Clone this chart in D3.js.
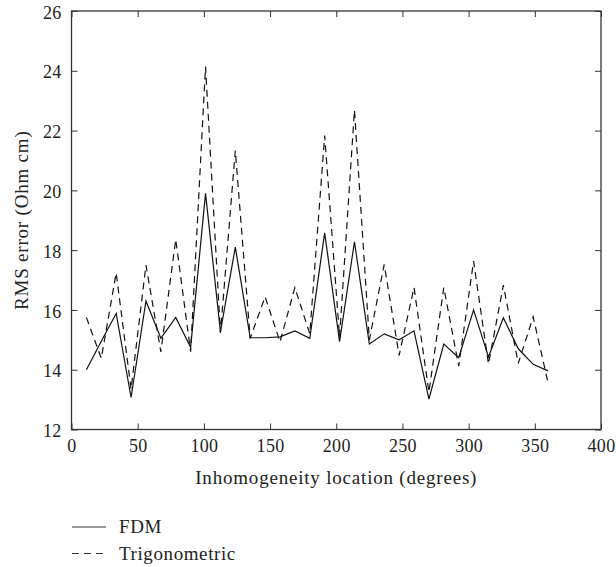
<!DOCTYPE html>
<html>
<head>
  <meta charset="utf-8">
  <script src="https://d3js.org/d3.v7.min.js"></script>
  <style type="text/css">
  body {
    margin: 0;
    background: #fff;
  }
  svg {
    display: block;
    font-family: "Liberation Serif", "Times New Roman", serif;
  }
  .axis path, .axis line {
    stroke: #333;
  }
  .axis text {
    font-size: 18px;
    letter-spacing: 0.3px;
    fill: #222;
  }
  .title {
    font-size: 19px;
    letter-spacing: 0.8px;
    fill: #222;
  }
  </style>
</head>
<body>
  <script type="text/javascript">
    // inhomogeneity location (degrees)
    var angles = [11.25, 22.5, 33.75, 45, 56.25, 67.5, 78.75, 90, 101.25, 112.5, 123.75,
      135, 146.25, 157.5, 168.75, 180, 191.25, 202.5, 213.75, 225, 236.25, 247.5,
      258.75, 270, 281.25, 292.5, 303.75, 315, 326.25, 337.5, 348.75, 360];

    // RMS error (Ohm cm)
    var fdm = [14.0, 14.95, 15.88, 13.07, 16.3, 15.05, 15.75, 14.75, 19.9, 15.27, 18.1,
      15.07, 15.07, 15.1, 15.3, 15.05, 18.58, 14.94, 18.28, 14.86, 15.2, 15.0,
      15.3, 13.02, 14.86, 14.4, 16.0, 14.43, 15.74, 14.7, 14.18, 13.96];

    var trig = [15.75, 14.38, 17.24, 13.35, 17.5, 14.6, 18.36, 14.6, 24.14, 15.23, 21.33,
      15.05, 16.44, 14.93, 16.75, 15.2, 21.83, 15.1, 22.68, 15.0, 17.52, 14.48,
      16.75, 13.25, 16.75, 14.12, 17.63, 14.19, 16.83, 14.21, 15.77, 13.56];

    var xTicks = [0, 50, 100, 150, 200, 250, 300, 350, 400];
    var yTicks = [12, 14, 16, 18, 20, 22, 24, 26];

    var series = [
      {name: "FDM", values: fdm, dash: null},
      {name: "Trigonometric", values: trig, dash: "7,5"}
    ];

    var W = 616, H = 567;
    var margin = {top: 11, right: 15, bottom: 137.5, left: 71.5};
    var width = W - margin.left - margin.right,
        height = H - margin.top - margin.bottom;

    var svg = d3.select("body").append("svg")
      .attr("width", W)
      .attr("height", H);

    var g = svg.append("g")
      .attr("transform", "translate(" + margin.left + "," + margin.top + ")");

    var x = d3.scaleLinear().domain([0, 400]).range([0, width]);
    var y = d3.scaleLinear().domain([12, 26]).range([height, 0]);

    // frame
    g.append("rect")
      .attr("width", width)
      .attr("height", height)
      .attr("fill", "none")
      .attr("stroke", "#333")
      .attr("stroke-width", 1.3);

    // axes, ticks pointing inward
    g.append("g")
      .attr("class", "axis")
      .attr("transform", "translate(0," + height + ")")
      .call(d3.axisBottom(x).tickValues(xTicks).tickSizeInner(-6).tickSizeOuter(0).tickPadding(10))
      .call(function(s) { s.select(".domain").remove(); });

    g.append("g")
      .attr("class", "axis")
      .call(d3.axisTop(x).tickValues(xTicks).tickSizeInner(-6).tickSizeOuter(0).tickFormat(""))
      .call(function(s) { s.select(".domain").remove(); });

    g.append("g")
      .attr("class", "axis")
      .call(d3.axisLeft(y).tickValues(yTicks).tickSizeInner(-6).tickSizeOuter(0).tickPadding(10))
      .call(function(s) { s.select(".domain").remove(); })
      .selectAll("text").attr("dy", "0.4em");

    g.append("g")
      .attr("class", "axis")
      .attr("transform", "translate(" + width + ",0)")
      .call(d3.axisRight(y).tickValues(yTicks).tickSizeInner(-6).tickSizeOuter(0).tickFormat(""))
      .call(function(s) { s.select(".domain").remove(); });

    g.selectAll(".axis text").style("font-family", "Liberation Serif, serif");

    // lines
    var line = d3.line()
      .x(function(d, i) { return x(angles[i]); })
      .y(function(d) { return y(d); });

    g.selectAll(".series")
      .data(series)
      .enter().append("path")
      .attr("class", "series")
      .attr("d", function(s) { return line(s.values); })
      .attr("fill", "none")
      .attr("stroke", "#111")
      .attr("stroke-width", 1.2)
      .attr("stroke-dasharray", function(s) { return s.dash; });

    // axis titles
    svg.append("text")
      .attr("class", "title")
      .attr("x", margin.left + width / 2)
      .attr("y", 484)
      .attr("text-anchor", "middle")
      .text("Inhomogeneity location (degrees)");

    svg.append("text")
      .attr("class", "title")
      .attr("transform", "translate(28," + (margin.top + height / 2) + ") rotate(-90)")
      .attr("text-anchor", "middle")
      .text("RMS error (Ohm cm)");

    // legend
    var legend = svg.selectAll(".legend")
      .data(series)
      .enter().append("g")
      .attr("class", "legend")
      .attr("transform", function(d, i) { return "translate(72," + (527 + i * 26.5) + ")"; });

    legend.append("line")
      .attr("x1", 0)
      .attr("x2", 34)
      .attr("stroke", "#333")
      .attr("stroke-width", 1.2)
      .attr("stroke-dasharray", function(d) { return d.dash; });

    legend.append("text")
      .attr("class", "title")
      .attr("x", 47)
      .attr("y", 6)
      .style("letter-spacing", "0.6px")
      .text(function(d) { return d.name; });
  </script>
</body>
</html>
